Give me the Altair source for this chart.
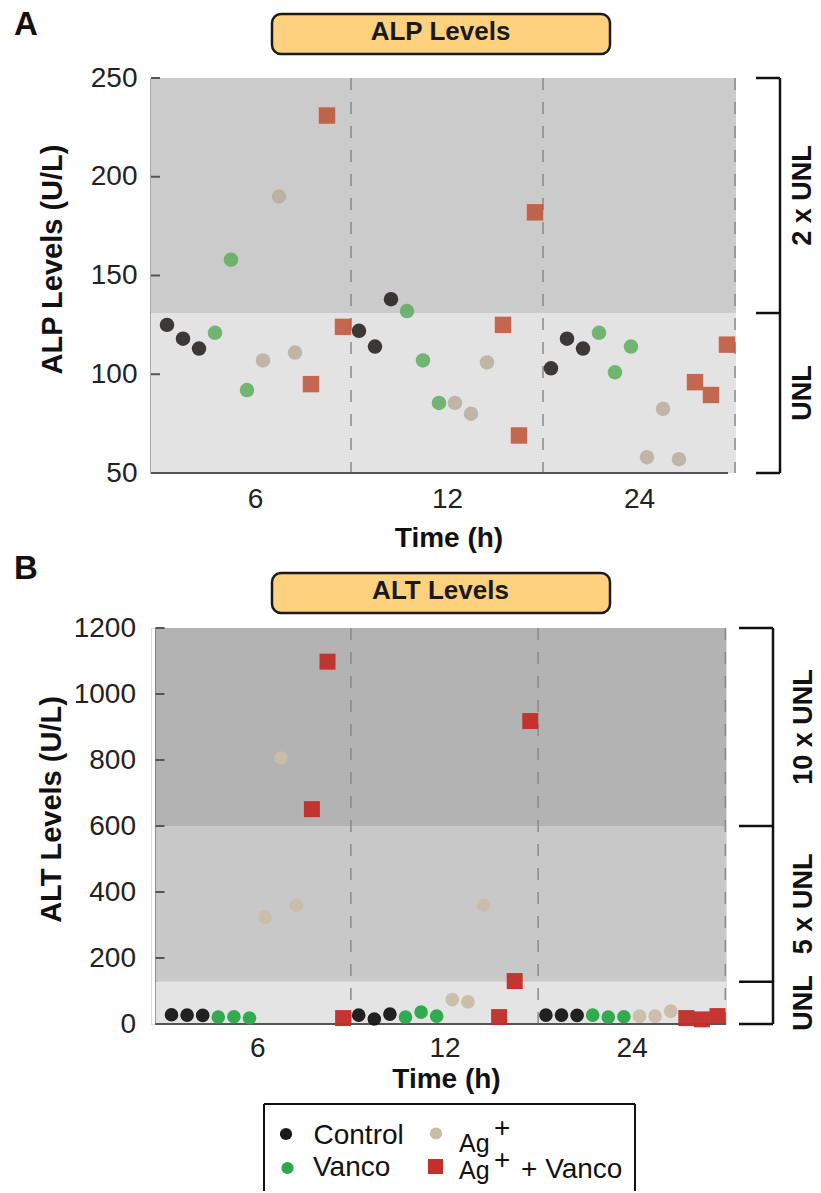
import altair as alt
import pandas as pd

# ---------------- data ----------------
GROUPS = ["Control", "Vanco", "Ag+", "Ag+ + Vanco"]
TIMES = ["6", "12", "24"]
N_REP = 3

# values listed per group: 6 h (x3), 12 h (x3), 24 h (x3)
ALP_CONTROL = [125, 118, 113, 122, 114, 138, 103, 118, 113]
ALP_VANCO = [121, 158, 92, 132, 107, 85.5, 121, 101, 114]
ALP_AG = [107, 190, 111, 85.5, 80, 106, 58, 82.5, 57]
ALP_AG_VANCO = [95, 231, 124, 125, 69, 182, 96, 89.5, 115]

ALT_CONTROL = [28, 27, 26, 27, 15, 30, 27, 27, 26]
ALT_VANCO = [21, 22, 18, 21, 36, 24, 27, 21, 22]
ALT_AG = [324, 806, 359, 74, 67, 360, 24, 24, 39]
ALT_AG_VANCO = [651, 1098, 18, 21, 130, 918, 18, 14, 24]

ALP_BANDS = [50, 131, 250]
ALP_BAND_LABELS = ["UNL", "2 x UNL"]
ALT_BANDS = [0, 128, 600, 1200]
ALT_BAND_LABELS = ["UNL", "5 x UNL", "10 x UNL"]

ALP_TICKS = [50, 100, 150, 200, 250]
ALT_TICKS = [0, 200, 400, 600, 800, 1000, 1200]

# ---------------- style ----------------
FONT = "Liberation Sans"
SHAPES = ["circle", "circle", "circle", "square"]
COLORS_A = ["#1e1a16", "#5ead5e", "#b9ae9e", "#be5135"]
COLORS_B = ["#1a1a1a", "#2ba84a", "#c9bca7", "#c1302a"]
SIZES_A = [210, 210, 210, 270]
SIZES_B = [185, 185, 185, 256]

one = pd.DataFrame({"k": [0]})


def make_df(series, colors, sizes):
    rows = []
    per_time = len(GROUPS) * N_REP
    for t, time in enumerate(TIMES):
        for g, grp in enumerate(GROUPS):
            for r in range(N_REP):
                rows.append({
                    "time": time, "group": grp,
                    "slot": t * per_time + g * N_REP + r,
                    "value": series[g][t * N_REP + r],
                    "color": colors[g], "shape": SHAPES[g], "size": sizes[g],
                })
    return pd.DataFrame(rows)


def panel(df, cfg):
    W, H = cfg["W"], cfg["H"]
    bands = cfg["bands"]
    per_time = len(GROUPS) * N_REP
    xs = alt.Scale(domain=cfg["xdom"], nice=False, zero=False)
    ys = alt.Scale(domain=[bands[0], bands[-1]], nice=False, zero=False)
    xvals = [t * per_time + (per_time - 1) / 2 for t in range(len(TIMES))]
    lbl = "{" + ",".join(f"'{v}':'{s}'" for v, s in zip(xvals, TIMES)) + "}[datum.value]"

    xax = alt.Axis(title="Time (h)", values=xvals, labelExpr=lbl, domain=False,
                   ticks=False, tickSize=0, grid=False, labelAngle=0,
                   labelFont=FONT, labelFontSize=28, labelColor="#222",
                   labelPadding=cfg["xlabpad"], titleFont=FONT, titleFontSize=28,
                   titleFontWeight="bold", titleColor="#111",
                   titleX=cfg["xtitle_x"], titleY=cfg["xtitle_y"],
                   titleAlign="center", titleBaseline="middle")
    yax = alt.Axis(title=cfg["ytitle"], values=cfg["ticks"], format="d",
                   domain=True, domainColor="#555", domainWidth=2,
                   ticks=False, tickSize=0, grid=False, offset=cfg["yoff"],
                   labelFont=FONT, labelFontSize=28, labelColor="#222",
                   labelPadding=cfg["ylabpad"], titleFont=FONT,
                   titleFontSize=29, titleFontWeight="bold", titleColor="#111",
                   titleAngle=270, titleX=cfg["ytitle_x"], titleY=181,
                   titleAlign="center", titleBaseline="middle")

    band_df = pd.DataFrame({"lo": bands[:-1], "hi": bands[1:], "fill": cfg["fills"]})
    layers = []
    layers.append(alt.Chart(band_df).mark_rect().encode(
        x=alt.value(cfg["xl"]), x2=alt.value(cfg["xr"]),
        y=alt.Y("lo:Q", scale=ys, axis=yax), y2="hi:Q",
        fill=alt.Fill("fill:N", scale=None)))

    bounds_df = pd.DataFrame({"b": [(t + 1) * per_time - 0.5 for t in range(len(TIMES))]})
    layers.append(alt.Chart(bounds_df).mark_rule(
        color="#8a8a8a", strokeWidth=1.5, strokeDash=[12, 12]).encode(
        x=alt.X("b:Q", scale=xs, axis=xax), y=alt.value(0), y2=alt.value(H)))

    layers.append(alt.Chart(one).mark_rule(color="#555", strokeWidth=2).encode(
        x=alt.value(cfg["xl"]), x2=alt.value(cfg["base_r"]), y=alt.value(H)))

    layers.append(alt.Chart(pd.DataFrame({"v": cfg["ticks"]})).mark_rule(
        color="#555", strokeWidth=2).encode(
        y=alt.Y("v:Q", scale=ys, axis=yax),
        x=alt.value(cfg["xl"]), x2=alt.value(cfg["xl"] + 9)))

    layers.append(alt.Chart(df).mark_point(filled=True, opacity=cfg["opacity"]).encode(
        x=alt.X("slot:Q", scale=xs, axis=xax),
        y=alt.Y("value:Q", scale=ys, axis=yax),
        color=alt.Color("color:N", scale=None),
        shape=alt.Shape("shape:N", scale=None),
        size=alt.Size("size:Q", scale=None)))

    # right-hand bracket
    bx0, bx = cfg["bracket"]
    layers.append(alt.Chart(pd.DataFrame({"lo": [bands[0]], "hi": [bands[-1]]})).mark_rule(
        color="#111", strokeWidth=2.5).encode(
        x=alt.value(bx), y=alt.Y("lo:Q", scale=ys, axis=yax), y2="hi:Q"))
    layers.append(alt.Chart(pd.DataFrame({"v": bands})).mark_rule(
        color="#111", strokeWidth=2.5).encode(
        x=alt.value(bx0), x2=alt.value(bx), y=alt.Y("v:Q", scale=ys, axis=yax)))
    lab_df = pd.DataFrame({"mid": [(a + b) / 2 for a, b in zip(bands[:-1], bands[1:])],
                           "label": cfg["band_labels"]})
    layers.append(alt.Chart(lab_df).mark_text(
        angle=270, font=FONT, fontSize=27, fontWeight="bold", color="#111",
        align="center", baseline="middle").encode(
        x=alt.value(cfg["blab_x"]), y=alt.Y("mid:Q", scale=ys, axis=yax),
        text="label:N"))

    # heading box and panel letter
    bt, bb = cfg["box_y"]
    layers.append(alt.Chart(one).mark_rect(
        fill="#fdd17e", stroke="#1a1a1a", strokeWidth=2.5, cornerRadius=9).encode(
        x=alt.value(121), x2=alt.value(459), y=alt.value(bt), y2=alt.value(bb)))
    layers.append(alt.Chart(one).mark_text(
        text=cfg["heading"], font=FONT, fontSize=26, fontWeight="bold",
        color="#1a1a1a", align="center", baseline="alphabetic").encode(
        x=alt.value(289.5), y=alt.value(bb - 14)))
    layers.append(alt.Chart(one).mark_text(
        text=cfg["letter"], font=FONT, fontSize=33, fontWeight="bold",
        color="#111", align="left", baseline="alphabetic").encode(
        x=alt.value(-137), y=alt.value(cfg["letter_y"])))

    layers.extend(cfg.get("extra", []))
    return alt.layer(*layers).properties(width=W, height=H)


# ---------------- panel A ----------------
df_a = make_df([ALP_CONTROL, ALP_VANCO, ALP_AG, ALP_AG_VANCO], COLORS_A, SIZES_A)
anchor = alt.Chart(one).mark_point(filled=True, color="white", size=1).encode(
    x=alt.value(-150), y=alt.value(-77))
cfg_a = dict(W=577, H=395, bands=ALP_BANDS, fills=["#e3e3e3", "#cbcbcb"],
             band_labels=ALP_BAND_LABELS, ticks=ALP_TICKS, xdom=[-1, 35.0625],
             xl=0, xr=585, base_r=577, yoff=0, ylabpad=14, xlabpad=12,
             ytitle="ALP Levels (U/L)",
             ytitle_x=-99, xtitle_x=297.5, xtitle_y=65.5, opacity=0.85,
             bracket=(605, 629), blab_x=652, box_y=(-64, -24), heading="ALP Levels",
             letter="A", letter_y=-43, extra=[anchor])
chart_a = panel(df_a, cfg_a)

# ---------------- legend (drawn under panel B) ----------------
legend_layers = []
for x1, x2, y1, y2 in [(113, 484, 476, 476), (113, 113, 476, 563), (484, 484, 476, 563)]:
    legend_layers.append(alt.Chart(one).mark_rule(color="#111", strokeWidth=2).encode(
        x=alt.value(x1), x2=alt.value(x2), y=alt.value(y1), y2=alt.value(y2)))

LEG_SYM = [(135, 506), (136.5, 540), (285, 505.5), (284.5, 538.5)]
LEG_TEXT = [
    [(GROUPS[0], 162.5, 516, 28)],
    [(GROUPS[1], 162, 548, 28)],
    [("Ag", 308, 524, 25), ("+", 343, 509, 28)],
    [("Ag", 308, 551, 25), ("+", 343, 541, 28), ("+ Vanco", 370, 550, 28)],
]
for g in range(len(GROUPS)):
    sx, sy = LEG_SYM[g]
    legend_layers.append(alt.Chart(one).mark_point(
        filled=True, opacity=1, shape=SHAPES[g], color=COLORS_B[g],
        size=150 if SHAPES[g] == "circle" else 225).encode(
        x=alt.value(sx), y=alt.value(sy)))
    for txt, tx, ty, fs in LEG_TEXT[g]:
        legend_layers.append(alt.Chart(one).mark_text(
            text=txt, font=FONT, fontSize=fs, color="#111", align="left",
            baseline="alphabetic").encode(x=alt.value(tx), y=alt.value(ty)))

# ---------------- panel B ----------------
df_b = make_df([ALT_CONTROL, ALT_VANCO, ALT_AG, ALT_AG_VANCO], COLORS_B, SIZES_B)
cfg_b = dict(W=575, H=396, bands=ALT_BANDS, fills=["#e4e4e4", "#c8c8c8", "#b3b3b3"],
             band_labels=ALT_BAND_LABELS, ticks=ALT_TICKS, xdom=[-1.314, 35.545],
             xl=4.5, xr=575, base_r=575, yoff=-4.5, ylabpad=20, xlabpad=10,
             ytitle="ALT Levels (U/L)", ytitle_x=-104.5, xtitle_x=295, xtitle_y=55,
             opacity=0.97, bracket=(588, 622), blab_x=653, box_y=(-55, -15),
             heading="ALT Levels", letter="B", letter_y=-49, extra=legend_layers)
chart_b = panel(df_b, cfg_b)

chart = alt.vconcat(chart_a, chart_b, spacing=155, bounds="flush").properties(
    padding=0, background="white"
).configure_view(stroke=None).configure(font=FONT)

chart.save("out.html", embed_options={"renderer": "svg", "actions": False})
